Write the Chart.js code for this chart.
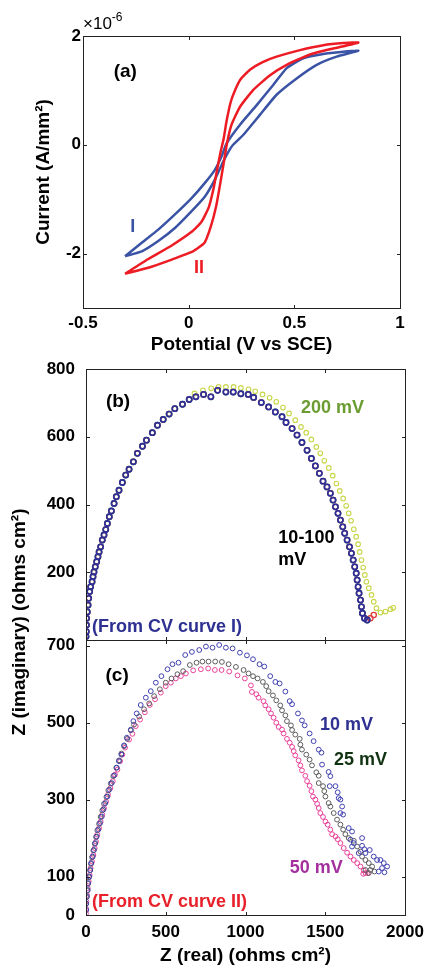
<!DOCTYPE html>
<html lang="en">
<head>
<meta charset="UTF-8">
<title>CV loops and impedance spectra</title>
<script src="https://cdn.jsdelivr.net/npm/chart.js"></script>
<style>
  body { margin: 0; background: #fff; }
  #wrap { position: relative; width: 433px; height: 965px; }
  canvas { position: absolute; left: 0; }
  #cvChart { top: 0; }
  #eisChart { top: 360px; }
</style>
</head>
<body>
<div id="wrap">
  <canvas id="cvChart" width="433" height="360"></canvas>
  <canvas id="eisChart" width="433" height="605"></canvas>
</div>
<script>
// ---- (a) cyclic voltammograms, current in units of 1e-6 A/mm2 ----
const cvPotI = [-0.301, -0.222, -0.144, -0.065, 0.014, 0.077, 0.124, 0.156, 0.180, 0.243, 0.322, 0.400, 0.464, 0.542, 0.637, 0.732, 0.803,
                0.700, 0.606, 0.511, 0.416, 0.337, 0.258, 0.210, 0.185, 0.156, 0.124, 0.077, 0.014, -0.065, -0.144, -0.222, -0.301];
const cvCurI = [-2.05, -1.80, -1.56, -1.28, -0.98, -0.70, -0.46, -0.21, 0.03, 0.37, 0.73, 1.10, 1.41, 1.59, 1.67, 1.71, 1.73,
                1.62, 1.47, 1.22, 0.92, 0.55, 0.18, 0.00, -0.15, -0.37, -0.64, -0.95, -1.22, -1.53, -1.77, -1.96, -2.05];
const cvPotII = [-0.301, -0.191, -0.080, 0.014, 0.060, 0.095, 0.118, 0.135, 0.150, 0.165, 0.180, 0.200, 0.219, 0.245, 0.290, 0.350, 0.416, 0.527, 0.637, 0.732, 0.803,
                 0.684, 0.574, 0.464, 0.385, 0.306, 0.243, 0.203, 0.183,
                 0.168, 0.150, 0.130, 0.105, 0.075, 0.020, -0.080, -0.191, -0.301];
const cvCurII = [-2.37, -2.10, -1.85, -1.60, -1.42, -1.15, -0.80, -0.45, -0.15, 0.10, 0.45, 0.80, 1.00, 1.20, 1.38, 1.52, 1.62, 1.74, 1.83, 1.87, 1.88,
                 1.77, 1.66, 1.47, 1.28, 1.01, 0.70, 0.37, 0.06,
                 -0.28, -0.70, -1.13, -1.50, -1.80, -1.96, -2.11, -2.26, -2.37];
const cvPotTicks = [-0.5, 0, 0.5, 1];
const cvCurTicks = [-2, 0, 2];

// ---- (b) Nyquist, from CV curve I ----
const bArcRe = [0, 2, 3, 4, 8, 13, 17, 23, 29, 38, 44, 50, 58, 67, 75, 82, 92, 102, 113, 124, 134, 146, 159, 176, 190, 207, 228, 249, 270, 297,
                322, 354, 379, 416, 448, 484, 521, 557, 605, 647, 689, 737, 783, 825, 877, 923, 971, 1017, 1051, 1099, 1145, 1187, 1229, 1254,
                1292, 1323, 1354, 1386, 1413, 1438, 1463, 1486, 1511, 1532, 1549, 1564, 1580, 1595, 1610, 1622, 1637, 1652, 1664, 1675, 1685,
                1694, 1700, 1706, 1712, 1721, 1727, 1733, 1746, 1763];
const bArcIm = [10, 25, 44, 64, 83, 103, 123, 143, 157, 172, 187, 201, 216, 231, 246, 260, 275, 295, 310, 326, 344, 364, 381, 403, 423, 442,
                465, 487, 504, 526, 551, 572, 590, 612, 634, 651, 667, 683, 696, 710, 718, 725, 718, 737, 732, 732, 727, 725, 716, 701, 688,
                673, 659, 642, 624, 605, 583, 560, 536, 514, 492, 469, 452, 433, 413, 393, 374, 354, 334, 315, 295, 275, 256, 236, 216, 197,
                177, 157, 138, 118, 98, 79, 64, 59];
const bTailRe = [1783, 1804];
const bTailIm = [64, 74];
const b200Re = [680, 733, 785, 831, 877, 925, 971, 1019, 1061, 1107, 1151, 1193, 1235, 1273, 1312, 1348, 1381, 1413, 1444, 1469, 1494, 1522,
                1547, 1570, 1591, 1612, 1631, 1647, 1662, 1679, 1694, 1706, 1716, 1727, 1738, 1748, 1758, 1773, 1790, 1804, 1821, 1846, 1878,
                1909, 1926];
const b200Im = [728, 737, 743, 747, 747, 747, 744, 740, 734, 725, 715, 703, 686, 669, 649, 629, 612, 592, 570, 551, 529, 508, 485, 462, 440,
                418, 396, 374, 352, 327, 305, 283, 260, 236, 214, 192, 172, 153, 133, 113, 94, 81, 84, 91, 95];
const bImTicks = [200, 400, 600, 800];

// ---- (c) Nyquist, from CV curve II ----
const c10Re = [2, 2, 6, 11, 14, 21, 27, 33, 42, 50, 58, 67, 77, 88, 99, 109, 121, 134, 146, 161, 176, 193, 207, 222, 239, 256, 281, 297, 318,
               343, 375, 406, 438, 473, 511, 542, 580, 622, 664, 710, 752, 793, 835, 877, 919, 965, 1009, 1047, 1088, 1118, 1155, 1187,
               1214, 1250, 1277, 1292, 1329, 1354, 1371, 1402, 1427, 1459, 1476, 1480, 1521, 1532, 1528, 1564, 1578, 1584, 1595, 1606, 1595,
               1612, 1647, 1668, 1658, 1679, 1668, 1731, 1731, 1746, 1779, 1710, 1752, 1804, 1825, 1846, 1867, 1888, 1856, 1835, 1871];
const c10Im = [13, 30, 48, 65, 83, 100, 117, 135, 152, 169, 187, 204, 222, 239, 256, 274, 291, 308, 326, 343, 363, 383, 400, 417, 441, 461,
               482, 504, 524, 546, 565, 582, 604, 621, 639, 652, 656, 676, 684, 689, 698, 695, 702, 695, 693, 682, 675, 665, 652, 646, 621,
               606, 602, 581, 556, 548, 524, 506, 493, 472, 452, 430, 422, 391, 372, 361, 335, 335, 319, 304, 300, 282, 265, 261, 226, 217,
               196, 187, 178, 200, 180, 171, 169, 161, 161, 152, 143, 143, 135, 126, 122, 113, 111];
const c25Re = [0, 4, 8, 13, 19, 25, 31, 38, 46, 55, 63, 71, 82, 92, 102, 113, 128, 140, 155, 171, 190, 207, 222, 239, 259, 281, 301, 333, 364,
               396, 427, 463, 500, 536, 573, 609, 651, 693, 730, 768, 810, 852, 894, 940, 988, 1019, 1047, 1076, 1109, 1130, 1145, 1172, 1193,
               1218, 1229, 1250, 1260, 1285, 1292, 1312, 1340, 1344, 1354, 1381, 1402, 1417, 1444, 1459, 1459, 1486, 1494, 1501, 1521, 1532,
               1553, 1574, 1595, 1612, 1626, 1647, 1679, 1700, 1721, 1731, 1752, 1773, 1794, 1808, 1783, 1752, 1773];
const c25Im = [29, 46, 63, 81, 98, 116, 133, 150, 168, 185, 203, 220, 237, 255, 272, 289, 307, 324, 342, 361, 383, 402, 420, 439, 458, 480,
               495, 516, 535, 550, 569, 587, 604, 615, 626, 634, 650, 656, 659, 659, 659, 658, 652, 645, 637, 628, 621, 615, 606, 595, 582,
               571, 558, 545, 532, 519, 504, 493, 481, 469, 458, 443, 430, 417, 404, 389, 371, 362, 343, 335, 322, 308, 291, 282, 265, 248,
               235, 222, 210, 200, 193, 178, 165, 152, 143, 135, 126, 113, 117, 117, 109];
const c50Re = [0, 0, 2, 6, 11, 17, 23, 29, 38, 46, 55, 63, 71, 82, 92, 102, 113, 126, 138, 153, 168, 182, 197, 214, 228, 245, 270, 291, 312,
               339, 369, 400, 433, 469, 500, 532, 563, 595, 626, 672, 720, 766, 808, 850, 898, 950, 996, 1034, 1040, 1068, 1082, 1113, 1124,
               1145, 1160, 1176, 1193, 1208, 1229, 1239, 1260, 1277, 1292, 1302, 1312, 1333, 1344, 1354, 1375, 1386, 1402, 1413, 1423, 1438,
               1449, 1459, 1469, 1486, 1501, 1515, 1532, 1543, 1564, 1578, 1595, 1616, 1637, 1658, 1679, 1700, 1721, 1741, 1752, 1766, 1738];
const c50Im = [4, 17, 35, 52, 70, 87, 104, 122, 139, 156, 174, 191, 209, 226, 243, 261, 278, 295, 313, 330, 348, 365, 378, 400, 417, 435,
               456, 471, 491, 508, 527, 546, 561, 578, 595, 604, 615, 621, 628, 636, 639, 641, 637, 637, 633, 623, 615, 597, 580, 574, 565,
               556, 545, 535, 524, 513, 500, 489, 482, 472, 458, 448, 437, 426, 415, 402, 389, 376, 362, 348, 336, 322, 308, 300, 289, 278,
               265, 255, 243, 235, 222, 210, 204, 197, 187, 174, 162, 152, 143, 135, 126, 116, 109, 109, 107];
const cImTicks = [0, 100, 300, 500, 700];
const reTicks = [0, 500, 1000, 1500, 2000];

const FAMILY = '"Liberation Sans", Arial, sans-serif';
Chart.defaults.font.family = FAMILY;
Chart.defaults.color = '#000';

const tickFont = { size: 17, weight: 'bold' };
const titleFont = { size: 19, weight: 'bold' };
const pts = (xs, ys) => xs.map((x, i) => ({ x: x, y: ys[i] }));
const fixTicks = vals => scale => { scale.ticks = vals.map(v => ({ value: v })); };
const plain = v => String(v);
const noGrid = { display: false, drawTicks: false };
// fixed y axis width, and no extra room reserved for the end labels
const yWidth = w => s => { s.width = w; s.paddingTop = 0; s.paddingBottom = 0; };

// matlab style box with inward ticks, plus text notes placed in data units
function boxPlugin(yIds, notes, extra) {
    return {
        id: 'matlabBox',
        afterDraw(chart) {
            const ctx = chart.ctx;
            const area = chart.chartArea;
            const xs = chart.scales.x;
            ctx.save();
            ctx.globalAlpha = 1;
            ctx.fillStyle = '#222';
            const L = Math.round(area.left), R = Math.round(area.right);
            yIds.forEach(id => {
                const ys = chart.scales[id];
                const T = Math.round(ys.top), B = Math.round(ys.bottom);
                ctx.fillRect(L, T, R - L + 1, 1);
                ctx.fillRect(L, B, R - L + 1, 1);
                ctx.fillRect(L, T, 1, B - T + 1);
                ctx.fillRect(R, T, 1, B - T + 1);
                xs.ticks.forEach(t => {
                    const px = Math.round(xs.getPixelForValue(t.value));
                    ctx.fillRect(px, T, 1, 4);
                    ctx.fillRect(px, B - 3, 1, 4);
                });
                ys.ticks.forEach(t => {
                    const py = Math.round(ys.getPixelForValue(t.value));
                    ctx.fillRect(L, py, 4, 1);
                    ctx.fillRect(R - 3, py, 4, 1);
                });
            });
            ctx.textBaseline = 'middle';
            notes.forEach(n => {
                ctx.font = 'bold ' + (n.size || 18) + 'px ' + FAMILY;
                ctx.fillStyle = n.color || '#000';
                ctx.textAlign = n.align || 'center';
                ctx.fillText(n.text, xs.getPixelForValue(n.x), chart.scales[n.axis].getPixelForValue(n.y));
            });
            if (extra) extra(ctx, chart);
            ctx.restore();
        }
    };
}

// (a)
const cvNotes = [
    { text: '(a)', x: -0.30, y: 1.34, axis: 'y', size: 19 },
    { text: 'I', x: -0.264, y: -1.52, axis: 'y', color: '#3a53a4' },
    { text: 'II', x: 0.049, y: -2.26, axis: 'y', color: '#ed1c24' }
];
new Chart(document.getElementById('cvChart'), {
    type: 'scatter',
    data: {
        datasets: [
            { label: 'II', data: pts(cvPotII, cvCurII), showLine: true, borderColor: '#ed1c24', borderWidth: 2.5, pointRadius: 0, tension: 0.15 },
            { label: 'I', data: pts(cvPotI, cvCurI), showLine: true, borderColor: '#3a53a4', borderWidth: 2.5, pointRadius: 0, tension: 0.15 }
        ]
    },
    options: {
        responsive: false,
        animation: false,
        layout: { padding: { top: 36, right: 33, bottom: 0, left: 0 } },
        plugins: { legend: { display: false }, tooltip: { enabled: false } },
        scales: {
            x: {
                min: -0.5, max: 1,
                afterBuildTicks: fixTicks(cvPotTicks),
                ticks: { padding: 5, font: tickFont, callback: plain },
                grid: noGrid,
                border: { display: false },
                title: { display: true, text: 'Potential (V vs SCE)', font: titleFont, padding: { top: 0, bottom: 4 } },
                afterFit: s => { s.height = 52; }
            },
            y: {
                min: -3, max: 2,
                afterBuildTicks: fixTicks(cvCurTicks),
                ticks: { padding: 2, font: tickFont, callback: plain },
                grid: noGrid,
                border: { display: false },
                title: { display: true, text: 'Current (A/mm²)', font: titleFont, padding: { top: 32, bottom: 0 } },
                afterFit: yWidth(83)
            }
        }
    },
    plugins: [boxPlugin(['y'], cvNotes, (ctx, chart) => {
        const left = chart.chartArea.left;
        ctx.textAlign = 'left';
        ctx.textBaseline = 'alphabetic';
        ctx.fillStyle = '#000';
        ctx.font = '17px ' + FAMILY;
        ctx.fillText('×10', left, 29);
        const w = ctx.measureText('×10').width;
        ctx.font = '12px ' + FAMILY;
        ctx.fillText('-6', left + w, 21);
    })]
});

// (b) + (c) share the real axis, stacked imaginary axes
const eisNotes = [
    { text: '(b)', x: 201, y: 702, axis: 'yb', size: 19 },
    { text: '200 mV', x: 1545, y: 684, axis: 'yb', color: '#6b9c32' },
    { text: '10-100', x: 1206, y: 301, axis: 'yb', align: 'left' },
    { text: 'mV', x: 1206, y: 236, axis: 'yb', align: 'left' },
    { text: '(From CV curve I)', x: 38, y: 38, axis: 'yb', align: 'left', color: '#2e3192' },
    { text: '(c)', x: 195, y: 621, axis: 'yc', size: 19 },
    { text: '10 mV', x: 1633, y: 495, axis: 'yc', color: '#2e3192' },
    { text: '25 mV', x: 1721, y: 404, axis: 'yc', color: '#123312' },
    { text: '50 mV', x: 1444, y: 123, axis: 'yc', color: '#a3309e' },
    { text: '(From CV curve II)', x: 38, y: 34, axis: 'yc', align: 'left', color: '#e8202a' }
];
const ring = (color, r, w) => ({ borderColor: color, backgroundColor: 'transparent', pointRadius: r, pointBorderWidth: w, pointHoverRadius: r });

new Chart(document.getElementById('eisChart'), {
    type: 'scatter',
    data: {
        datasets: [
            Object.assign({ label: '10 mV (I)', yAxisID: 'yb', data: pts(bArcRe, bArcIm) }, ring('#2b2f9c', 2.6, 1.6)),
            Object.assign({ label: '50 mV (I)', yAxisID: 'yb', data: pts(bArcRe.concat(bTailRe), bArcIm.concat(bTailIm)) }, ring('#e23a3a', 2.6, 1.3)),
            Object.assign({ label: '25 mV (I)', yAxisID: 'yb', data: pts(bArcRe, bArcIm) }, ring('#2ea86a', 2.8, 1.2)),
            Object.assign({ label: '200 mV (I)', yAxisID: 'yb', data: pts(bArcRe.slice(0, 40).concat(b200Re), bArcIm.slice(0, 40).concat(b200Im)) }, ring('#c8d64a', 2.3, 1.1)),
            Object.assign({ label: '10 mV (II)', yAxisID: 'yc', data: pts(c10Re, c10Im) }, ring('#4040b0', 2.4, 1)),
            Object.assign({ label: '25 mV (II)', yAxisID: 'yc', data: pts(c25Re, c25Im) }, ring('#5c5c5c', 2.4, 1)),
            Object.assign({ label: '50 mV (II)', yAxisID: 'yc', data: pts(c50Re, c50Im) }, ring('#e8409a', 2.4, 1))
        ]
    },
    options: {
        responsive: false,
        animation: false,
        layout: { padding: { top: 9, right: 28, bottom: 0, left: 0 } },
        plugins: { legend: { display: false }, tooltip: { enabled: false } },
        scales: {
            x: {
                min: 0, max: 2000,
                afterBuildTicks: fixTicks(reTicks),
                ticks: { padding: 7, font: tickFont, callback: plain },
                grid: noGrid,
                border: { display: false },
                title: { display: true, text: 'Z (real) (ohms cm²)', font: { size: 19, weight: 'bold', lineHeight: 1 }, padding: { top: 0, bottom: 0 } },
                afterFit: s => { s.height = 50; }
            },
            yb: {
                position: 'left', stack: 'z', stackWeight: 271, weight: 1,
                min: 0, max: 800,
                afterBuildTicks: fixTicks(bImTicks),
                ticks: { padding: 11, font: tickFont, callback: plain },
                grid: noGrid,
                border: { display: false },
                afterFit: yWidth(86)
            },
            yc: {
                position: 'left', stack: 'z', stackWeight: 275, weight: 0,
                min: 0, max: 715,
                afterBuildTicks: fixTicks(cImTicks),
                ticks: { padding: 11, font: tickFont, callback: plain },
                grid: noGrid,
                border: { display: false },
                afterFit: yWidth(86)
            }
        }
    },
    plugins: [boxPlugin(['yb', 'yc'], eisNotes, (ctx, chart) => {
        const area = chart.chartArea;
        ctx.translate(20, (area.top + area.bottom) / 2 - 20);
        ctx.rotate(-Math.PI / 2);
        ctx.textAlign = 'center';
        ctx.textBaseline = 'middle';
        ctx.fillStyle = '#000';
        ctx.font = 'bold 19px ' + FAMILY;
        ctx.fillText('Z (imaginary) (ohms cm²)', 0, 0);
    })]
});
</script>
</body>
</html>
